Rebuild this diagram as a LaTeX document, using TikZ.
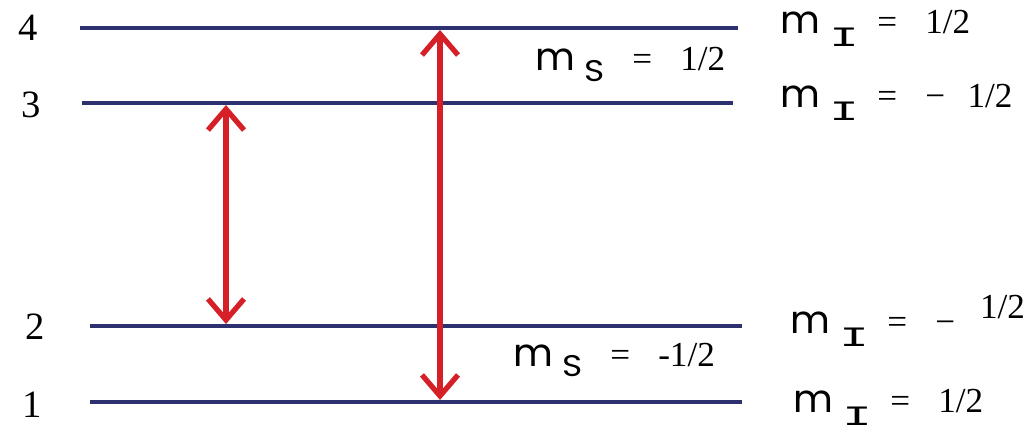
\documentclass[tikz,border=0pt]{standalone}
\usepackage{fontspec}
\usetikzlibrary{arrows.meta}
\setmainfont{Liberation Serif}
\newfontfamily\gothic{Poppins}
\newfontfamily\slabfont{Liberation Mono}
\definecolor{levelblue}{RGB}{46,49,112}
\definecolor{arrowred}{RGB}{214,32,40}
\newcommand{\subI}{\raisebox{-0.28cm}{\slabfont\fontsize{20}{20}\selectfont\scalebox{1.4}[0.8]{I}}}
\newcommand{\subS}{\raisebox{-0.22cm}{\gothic\fontsize{17}{17}\selectfont\scalebox{1.15}[1]{S}}}
\newcommand{\mlab}[2]{\makebox[0.98cm][l]{\gothic\fontsize{22}{22}\selectfont m}\makebox[0.96cm][l]{#1}\makebox[0.96cm][l]{=}#2}
\begin{document}
\begin{tikzpicture}[
		x=0.02cm, y=-0.02cm,
		level/.style={draw=levelblue, line width=2.6pt},
		trans/.style={draw=arrowred, line width=3pt, {Straight Barb[length=0.42cm, width=0.72cm]}-{Straight Barb[length=0.42cm, width=0.72cm]}},
		num/.style={font=\fontsize{22}{24}\selectfont, inner sep=0pt},
		qlab/.style={anchor=base west, inner sep=0pt, font=\fontsize{20}{22}\selectfont}
		]
		\useasboundingbox (0,0) rectangle (1036,436);
		% Levels
		\coordinate (w4) at (80,28);  \coordinate (e4) at (738,28);
		\coordinate (w3) at (82,103); \coordinate (e3) at (733,103);
		\coordinate (w2) at (90,326); \coordinate (e2) at (742,326);
		\coordinate (w1) at (90,402); \coordinate (e1) at (742,402);
		\foreach \i in {1,...,4} \draw[level] (w\i) -- (e\i);
		% Level numbers
		\node[num] (n4) at (28,28) {4};
		\node[num] (n3) at (31,105) {3};
		\node[num] (n2) at (35,327) {2};
		\node[num] (n1) at (32,405) {1};
		% Transitions
		\coordinate (a3) at (226,105); \coordinate (a2) at (226,324);
		\coordinate (b4) at (440,30);  \coordinate (b1) at (440,400);
		\draw[trans] (a3) -- (a2);
		\draw[trans] (b4) -- (b1);
		% Quantum numbers
		\node[qlab] (mi4) at (780,33) {\mlab{\subI}{1/2}};
		\node[qlab] (mi3) at (780,107) {\mlab{\subI}{−\hspace{0.45cm}1/2}};
		\node[qlab] (msup) at (535,71) {\mlab{\subS}{1/2}};
		\node[qlab] (mi2) at (790,333) {\mlab{\subI}{−\hspace{0.5cm}\raisebox{0.3cm}{1/2}}};
		\node[qlab] (msdn) at (513,366) {\mlab{\subS}{-1/2}};
		\node[qlab] (mi1) at (793,412) {\mlab{\subI}{1/2}};
\end{tikzpicture}
\end{document}
